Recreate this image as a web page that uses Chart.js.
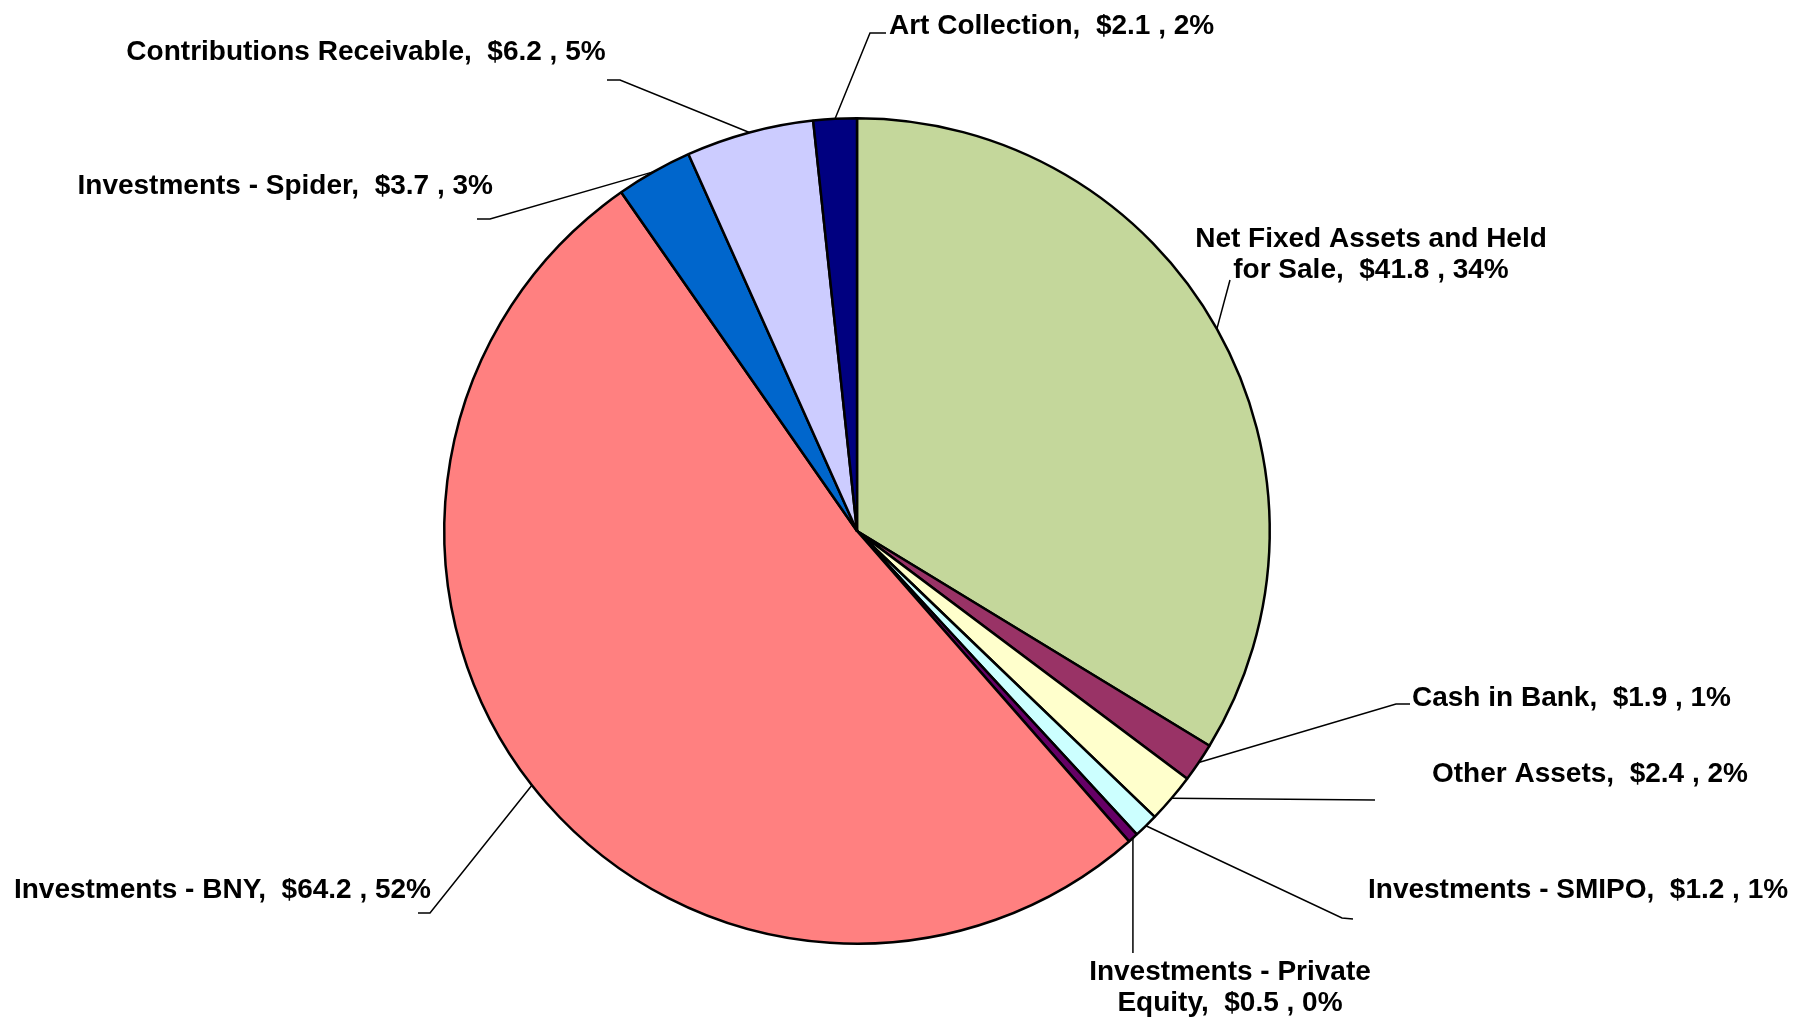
<!DOCTYPE html>
<html><head><meta charset="utf-8">
<script src="https://cdn.jsdelivr.net/npm/chart.js@4"></script>
<style>html,body{margin:0;padding:0;background:#fff;overflow:hidden}canvas{display:block}</style>
</head><body>
<canvas id="c" width="1794" height="1018"></canvas>
<script>
const categories = [
  'Net Fixed Assets and Held for Sale',
  'Cash in Bank',
  'Other Assets',
  'Investments - SMIPO',
  'Investments - Private Equity',
  'Investments - BNY',
  'Investments - Spider',
  'Contributions Receivable',
  'Art Collection'
];
const values = [41.8, 1.9, 2.4, 1.2, 0.5, 64.2, 3.7, 6.2, 2.1];
const percents = [34, 1, 2, 1, 0, 52, 3, 5, 2];
const colors = ['#C4D79B', '#993366', '#FFFFCC', '#CCFFFF', '#660066', '#FF8080', '#0066CC', '#CCCCFF', '#000080'];

// Label layout (offsets from pie centre, px): text anchor, alignment, leader-line bend points
const labelLayout = [
  {tx: 514, ty: -292, align: 'center', maxW: 360, path: [[373, -251]]},
  {tx: 555, ty: 167, align: 'left', path: [[539, 173], [553, 173]]},
  {tx: 575, ty: 243, align: 'left', path: [[518, 269]]},
  {tx: 511, ty: 359, align: 'left', path: [[485, 387], [496, 388]]},
  {tx: 373, ty: 441, align: 'center', maxW: 300, path: [[null, 422]]},
  {tx: -426, ty: 359, align: 'right', path: [[-427, 382], [-439, 382]]},
  {tx: -364, ty: -345, align: 'right', path: [[-367, -312], [-380, -312]]},
  {tx: -491, ty: -479, align: 'center', path: [[-237, -451], [-250, -451]]},
  {tx: 32, ty: -505, align: 'left', path: [[13, -498], [29, -498]]}
];

const FONT = 'bold 28px "Liberation Sans", Arial, sans-serif';
const LINE_H = 31;

function wrap(ctx, text, maxW) {
  if (!maxW) return [text];
  const toks = text.split(' ');
  const lines = [];
  let cur = '';
  for (let i = 0; i < toks.length; i++) {
    const t = toks[i];
    const cand = i === 0 || cur === '' ? (cur === '' ? t : cur + ' ' + t) : (cur + ' ' + t);
    if (ctx.measureText(cand).width > maxW && cur.trim() !== '') {
      lines.push(cur);
      cur = t;
    } else {
      cur = cand;
    }
  }
  lines.push(cur);
  return lines;
}

const labelPlugin = {
  id: 'pieLabels',
  afterDatasetsDraw(chart) {
    const ctx = chart.ctx;
    const meta = chart.getDatasetMeta(0);
    ctx.save();
    ctx.font = FONT;
    ctx.fillStyle = '#000';
    ctx.strokeStyle = '#000';
    ctx.lineWidth = 1.5;
    meta.data.forEach((arc, i) => {
      const L = labelLayout[i];
      const cx = arc.x, cy = arc.y;
      const mid = (arc.startAngle + arc.endAngle) / 2;
      const sx = cx + Math.cos(mid) * arc.outerRadius;
      const sy = cy + Math.sin(mid) * arc.outerRadius;
      ctx.beginPath();
      ctx.moveTo(sx, sy);
      L.path.forEach(p => {
        const px = p[0] === null ? sx : cx + p[0];
        ctx.lineTo(px, cy + p[1]);
      });
      ctx.stroke();
      const text = categories[i] + ',  $' + values[i].toFixed(1) + ' , ' + percents[i] + '%';
      const lines = wrap(ctx, text, L.maxW);
      ctx.textAlign = L.align;
      ctx.textBaseline = 'middle';
      lines.forEach((ln, k) => {
        ctx.fillText(ln, cx + L.tx, cy + L.ty + k * LINE_H);
      });
    });
    ctx.restore();
  }
};

new Chart(document.getElementById('c'), {
  type: 'pie',
  data: {
    labels: categories,
    datasets: [{
      data: values,
      backgroundColor: colors,
      borderColor: '#000',
      borderWidth: 2.5
    }]
  },
  options: {
    responsive: false,
    animation: false,
    layout: {padding: {left: 443, right: 523, top: 117, bottom: 73}},
    plugins: {legend: {display: false}, tooltip: {enabled: false}}
  },
  plugins: [labelPlugin]
});
</script>
</body></html>
